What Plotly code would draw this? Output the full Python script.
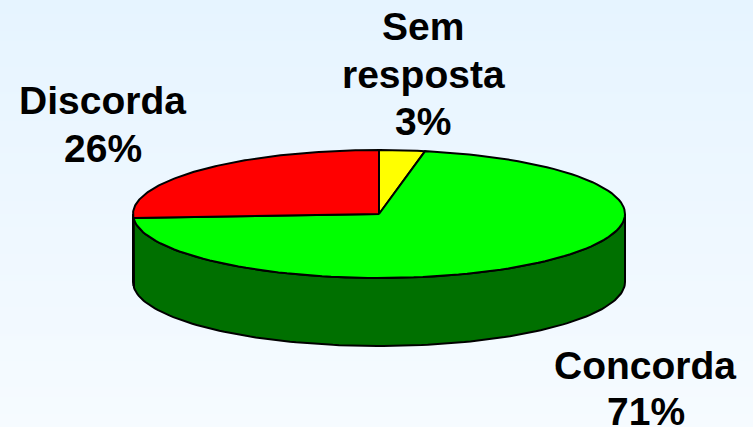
import numpy as np
import plotly.graph_objects as go

# Data, clockwise from 12 o'clock
categories = ["Sem resposta", "Concorda", "Discorda"]
values = [3, 71, 26]
top_colors = ["#FFFF00", "#00FF00", "#FF0000"]
side_colors = ["#707000", "#007000", "#700000"]
label_lines = [["Sem", "resposta", "3%"], ["Concorda", "71%"], ["Discorda", "26%"]]

# Layout constants (pixel space)
W, H = 753, 427
CX, CY, RX, RY, DEPTH = 379, 214, 246, 64, 68
LABEL_POS = [[(423, 26), (423, 74), (423, 121)], [(645, 365), (646, 411)], [(102.5, 100), (103, 148)]]
FONT = dict(family="Liberation Sans, Arial, sans-serif", size=39, color="#000000")
BG_TOP, BG_BOTTOM = "#E6F4FF", "#F6FBFF"


def arc(t0, t1, dy=0.0, n=120):
    t = np.linspace(t0, t1, n)
    return CX + RX * np.sin(t), CY + dy - RY * np.cos(t)


fracs = np.array(values, dtype=float) / sum(values)
edges = np.concatenate([[0.0], np.cumsum(fracs)]) * 2 * np.pi

fig = go.Figure()

# Background gradient
fig.add_trace(go.Heatmap(
    x=[0, W], y=[0, H], z=[[0, 0], [1, 1]], zsmooth="best", showscale=False, hoverinfo="skip",
    colorscale=[[0, BG_TOP], [1, BG_BOTTOM]],
))

LINE = dict(color="#000000", width=2)

# Visible side walls (front half of the rim only)
for i, cat in enumerate(categories):
    a0, a1 = max(edges[i], np.pi / 2), min(edges[i + 1], 3 * np.pi / 2)
    if a1 <= a0:
        continue
    xt, yt = arc(a0, a1)
    xb, yb = arc(a1, a0, DEPTH)
    fig.add_trace(go.Scatter(
        x=np.r_[xt, xb, xt[0]], y=np.r_[yt, yb, yt[0]], mode="lines", fill="toself",
        fillcolor=side_colors[i], line=LINE, hoverinfo="skip", showlegend=False,
    ))

# Top faces
for i, cat in enumerate(categories):
    xt, yt = arc(edges[i], edges[i + 1])
    fig.add_trace(go.Scatter(
        x=np.r_[CX, xt, CX], y=np.r_[CY, yt, CY], mode="lines", fill="toself",
        fillcolor=top_colors[i], line=LINE, name=cat, hoverinfo="skip", showlegend=False,
    ))

# Labels
for lines, pos in zip(label_lines, LABEL_POS):
    for text, (x, y) in zip(lines, pos):
        fig.add_annotation(x=x, y=y, text=f"<b>{text}</b>", showarrow=False, font=FONT,
                           xanchor="center", yanchor="middle")

fig.update_layout(
    width=W, height=H, margin=dict(l=0, r=0, t=0, b=0), autosize=False,
    paper_bgcolor=BG_BOTTOM, plot_bgcolor=BG_BOTTOM, showlegend=False,
    xaxis=dict(range=[0, W], visible=False, fixedrange=True),
    yaxis=dict(range=[H, 0], visible=False, fixedrange=True),
)
fig.write_html(
    "out.html",
    config=dict(displayModeBar=False),
    post_script="document.body.style.margin='0';document.documentElement.style.overflow='hidden';",
)
